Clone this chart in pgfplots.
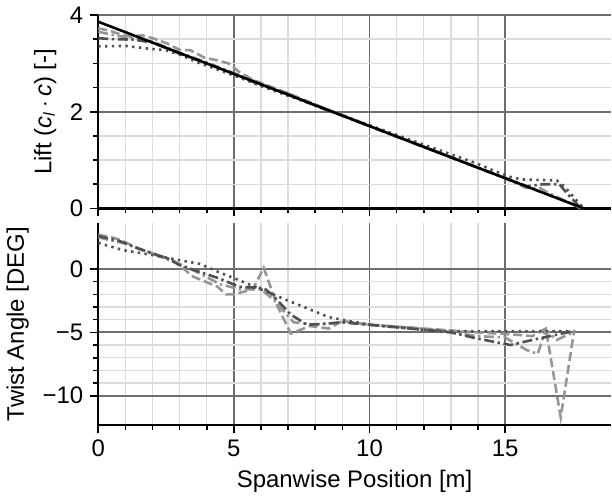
\documentclass[border=0pt]{standalone}
\usepackage{pgfplots}
\pgfplotsset{compat=1.18}
\usepackage{fontspec}
\setmainfont{Liberation Sans}
\definecolor{majgrid}{RGB}{110,110,110}
\definecolor{mingrid}{RGB}{220,220,220}
\definecolor{darkg}{RGB}{80,80,80}
\definecolor{lightg}{RGB}{150,150,150}
\pgfplotsset{
  span/.style={
    scale only axis,
    width=257pt,
    xmin=0, xmax=18.9,
    xtick={0,5,10,15},
    minor x tick num=4,
    axis x line=bottom, axis y line=left,
    axis line style={-, line width=1.1pt, black},
    tick align=outside,
    major tick length=4pt, minor tick length=2.5pt,
    tick style={black, line width=0.8pt},
    grid=both,
    major grid style={majgrid, line width=0.9pt},
    minor grid style={mingrid, line width=0.7pt},
    font=\fontsize{12}{14}\selectfont,
    ylabel style={font=\fontsize{12}{14}\selectfont},
    xlabel style={font=\fontsize{12}{14}\selectfont},
    clip=false,
  },
  dashlight/.style={lightg, line width=1.3pt, dash pattern=on 4.5pt off 2pt},
  dashdotdark/.style={darkg, line width=1.3pt, dash pattern=on 5pt off 1.8pt on 1.2pt off 1.8pt},
  dashdotlight/.style={lightg, line width=1.3pt, dash pattern=on 5pt off 1.8pt on 1.2pt off 1.8pt},
  dotdark/.style={darkg, line width=1.3pt, dash pattern=on 1.2pt off 2.2pt},
}
\begin{document}
\begin{tikzpicture}
\begin{axis}[
  span,
  at={(0,0)}, anchor=south west,
  height=97pt,
  ymin=0, ymax=4,
  ytick={0,2,4}, yticklabels={0,2,4},
  minor y tick num=3,
  xticklabels={},
  ylabel={Lift (\textit{c}\textsubscript{\textit{l}}\,$\cdot$\,\textit{c}) [-]},
]
\addplot[dashlight] coordinates {
  (0,3.72) (0.4,3.68) (0.8,3.6) (1.2,3.55) (1.6,3.58) (2.0,3.52) (2.5,3.42)
  (3.0,3.28) (3.4,3.27) (3.9,3.12) (4.4,3.06) (4.8,3.0) (5.2,2.82) (5.7,2.66)
  (6.2,2.55) (7,2.38) (8,2.15) (9,1.92) (10,1.7) (11,1.49) (12,1.27) (13,1.06)
  (14,0.84) (15,0.63) (16,0.41) (17,0.2) (17.9,0)
};
\addplot[dashdotlight] coordinates {
  (0,3.65) (0.8,3.56) (1.5,3.5) (2,3.45) (3,3.22) (4,3.02) (5,2.8) (6,2.58)
  (7,2.36) (8,2.14) (9,1.93) (10,1.71) (12,1.28) (14,0.85) (15,0.62)
  (15.8,0.42) (16.3,0.42) (16.5,0.35) (17.8,0)
};
\addplot[dashdotdark] coordinates {
  (0,3.52) (0.5,3.5) (1.3,3.49) (2,3.43) (3,3.2) (4,3.0) (5,2.78) (6,2.55)
  (7,2.37) (8,2.12) (9,1.92) (10,1.7) (12,1.27) (14,0.84) (15,0.63)
  (15.8,0.46) (16.4,0.5) (17.0,0.5) (17.3,0.3) (17.8,0)
};
\addplot[dotdark] coordinates {
  (0,3.35) (1,3.36) (1.9,3.3) (2.5,3.27) (3,3.18) (3.75,3.0) (4.5,2.85)
  (5,2.75) (6,2.53) (7,2.33) (8,2.13) (9,1.92) (10,1.72) (11,1.52) (12,1.32)
  (13,1.12) (14,0.92) (14.5,0.8) (15.2,0.65) (15.6,0.6) (16.9,0.58)
  (17.2,0.45) (17.5,0.25) (17.9,0)
};
\addplot[black, line width=1.3pt] coordinates {(0,3.86) (17.9,0)};
\end{axis}
\begin{axis}[
  span,
  at={(0,-7.5pt)}, anchor=north west,
  height=101pt,
  ymin=-12.3, ymax=3.6,
  ytick={-10,-5,0}, yticklabels={−10,−5,0},
  minor y tick num=4,
  xticklabels={0,5,10,15},
  xlabel={Spanwise Position [m]},
  ylabel={Twist Angle [DEG]},
]
\addplot[dashlight] coordinates {
  (0,2.7) (0.5,2.5) (0.8,2.3) (1.5,1.6) (2.75,0.7) (3.5,-0.6) (4.4,-1.4)
  (4.7,-2.0) (5.0,-2.0) (5.7,-1.6) (6.1,0.1) (6.6,-2.9) (7.1,-5.1)
  (7.8,-4.5) (8.5,-4.7) (9,-4.1) (10,-4.4) (12,-4.7) (14,-5.0) (15.5,-5.2)
  (16.0,-5.3) (16.5,-4.7) (17.05,-11.7) (17.55,-4.8)
};
\addplot[dashdotlight] coordinates {
  (0,2.5) (1,2.0) (2,1.2) (3,0.4) (3.6,-0.2) (4.5,-1.2) (5.2,-1.6) (6,-1.6)
  (6.5,-2.5) (7.2,-4.2) (8,-4.4) (9,-4.2) (10,-4.4) (12,-4.7) (14,-5.3)
  (15,-5.4) (15.8,-6.4) (16.2,-6.7) (16.5,-4.8) (16.9,-5.6) (17.5,-5.0)
};
\addplot[dashdotdark] coordinates {
  (0,2.6) (0.8,2.2) (1.5,1.6) (2.6,0.8) (3,0.3) (4.4,-0.7) (5.2,-1.4)
  (6.1,-1.5) (6.4,-2.0) (7.1,-3.6) (7.7,-4.4) (8.5,-4.3) (9,-4.2) (10,-4.4)
  (11,-4.6) (12,-4.8) (13,-5.0) (14,-5.5) (15.2,-6.0) (16,-5.6) (17.5,-4.9)
};
\addplot[dotdark] coordinates {
  (0,2.06) (0.9,1.5) (2,1.1) (3,0.7) (3.75,0.4) (4.5,-0.3) (5.1,-0.8)
  (6.1,-1.7) (7,-2.5) (7.7,-3.1) (8.5,-3.8) (9,-4.0) (10,-4.4) (11,-4.6)
  (12,-4.8) (13,-4.9) (17.5,-4.9)
};
\end{axis}
\path (0,104.5pt) (0,-141pt);
\end{tikzpicture}
\end{document}
